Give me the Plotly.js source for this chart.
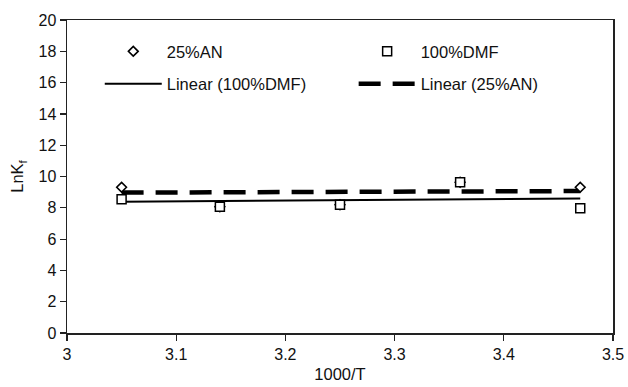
<!DOCTYPE html>
<html>
<head>
<meta charset="utf-8">
<script src="https://cdn.plot.ly/plotly-3.0.1.min.js"></script>
<style>html,body{margin:0;padding:0;background:#fff;}#chart{width:628px;height:387px;}</style>
</head>
<body>
<div id="chart"></div>
<script>
// Data
var invT = [3.05, 3.14, 3.25, 3.36, 3.47];
var lnKf_25AN = [9.31, 8.07, 8.2, 9.63, 9.31];
var lnKf_100DMF = [8.54, 8.07, 8.2, 9.63, 7.97];
// Linear trendlines as drawn (endpoints)
var trendX = [3.05, 3.47];
var trend_100DMF = [8.39, 8.6];
var trend_25AN = [8.97, 9.07];
var xTicks = [3, 3.1, 3.2, 3.3, 3.4, 3.5];
var yTicks = [0, 2, 4, 6, 8, 10, 12, 14, 16, 18, 20];

var fam = 'Liberation Sans, Arial, sans-serif';
var font = {family: fam, size: 16, color: '#111'};

var traces = [
  {x: trendX, y: trend_100DMF, mode: 'lines', name: 'Linear (100%DMF)',
   line: {color: '#000', width: 2}, legend: 'legend', legendgroup: 'b', legendrank: 2},
  {x: trendX, y: trend_25AN, mode: 'lines', name: 'Linear (25%AN)',
   line: {color: '#000', width: 4.5, dash: '22px,12px'}, legend: 'legend2', legendgroup: 'd', legendrank: 2},
  {x: invT, y: lnKf_25AN, mode: 'markers', name: '25%AN',
   marker: {symbol: 'diamond', size: 7.5, color: '#fff', line: {width: 1.6, color: '#000'}},
   legend: 'legend', legendgroup: 'a', legendrank: 1},
  {x: invT, y: lnKf_100DMF, mode: 'markers', name: '100%DMF',
   marker: {symbol: 'square', size: 9, color: '#fff', line: {width: 1.5, color: '#000'}},
   legend: 'legend2', legendgroup: 'c', legendrank: 1}
];

var legStyle = function (x) {
  return {orientation: 'v', x: x, xanchor: 'left', y: 0.955, yanchor: 'top',
          traceorder: 'grouped', tracegroupgap: 8, bgcolor: 'rgba(0,0,0,0)',
          font: {family: fam, size: 16.5, color: '#111'}, itemwidth: 57};
};

var layout = {
  width: 628, height: 387,
  margin: {l: 67, r: 15, t: 20, b: 54},
  paper_bgcolor: '#fff', plot_bgcolor: '#fff',
  font: font,
  showlegend: true,
  legend: legStyle(0.06),
  legend2: legStyle(0.525),
  xaxis: {range: [3, 3.5], tickvals: xTicks, ticktext: xTicks.map(String),
          showgrid: false, zeroline: false, showline: true, linecolor: '#222', linewidth: 1.5,
          mirror: true, ticks: 'outside', ticklen: 6, tickwidth: 1.2, tickcolor: '#222',
          title: {text: '1000/T', font: {family: fam, size: 16.5, color: '#111'}, standoff: 6},
          tickfont: font},
  yaxis: {range: [0, 20], tickvals: yTicks, showgrid: false, zeroline: false,
          showline: true, linecolor: '#222', linewidth: 1.5, mirror: true,
          ticks: 'outside', ticklen: 6, tickwidth: 1.2, tickcolor: '#222',
          title: {text: 'LnK<sub>f</sub>', font: {family: fam, size: 16.5, color: '#111'}, standoff: 10},
          tickfont: font}
};

Plotly.newPlot('chart', traces, layout, {staticPlot: true, displayModeBar: false});
</script>
</body>
</html>
